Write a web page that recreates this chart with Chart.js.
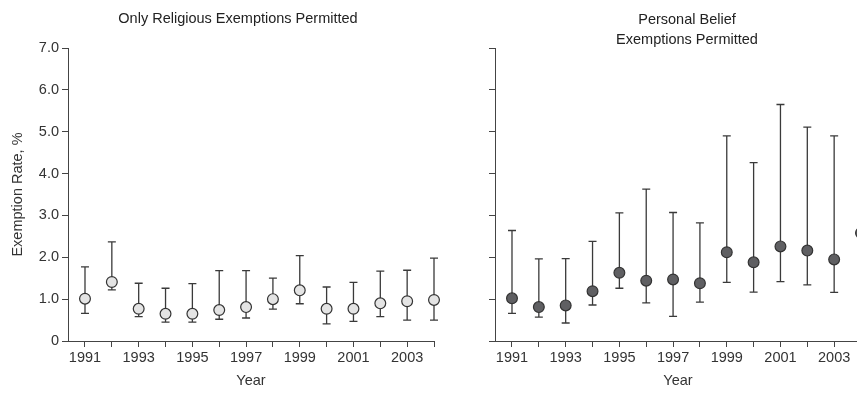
<!DOCTYPE html>
<html>
<head>
<meta charset="utf-8">
<script src="https://cdn.jsdelivr.net/npm/chart.js@4/dist/chart.umd.min.js"></script>
<style>
  html, body { margin: 0; padding: 0; background: #fff; }
  #wrap { position: relative; width: 857px; height: 402px; overflow: hidden; }
  #leftChart { position: absolute; left: 0; top: 0; }
  #rightChart { position: absolute; left: 476px; top: 0; }
</style>
</head>
<body>
<div id="wrap">
  <canvas id="leftChart" width="476" height="402"></canvas>
  <canvas id="rightChart" width="422" height="402"></canvas>
</div>
<script>
const years = [1991, 1992, 1993, 1994, 1995, 1996, 1997, 1998, 1999, 2000, 2001, 2002, 2003, 2004]
const yTicks = [0, 1, 2, 3, 4, 5, 6, 7]

// only religious exemptions
const relMean = [1.01, 1.41, 0.77, 0.65, 0.65, 0.74, 0.81, 1.00, 1.21, 0.77, 0.77, 0.90, 0.95, 0.98]
const relLow  = [0.66, 1.22, 0.58, 0.45, 0.45, 0.52, 0.55, 0.76, 0.89, 0.41, 0.47, 0.58, 0.50, 0.50]
const relHigh = [1.77, 2.37, 1.38, 1.26, 1.37, 1.68, 1.68, 1.50, 2.04, 1.29, 1.40, 1.67, 1.69, 1.98]

// personal belief exemptions
const pbMean = [1.02, 0.81, 0.85, 1.19, 1.63, 1.44, 1.47, 1.38, 2.12, 1.88, 2.26, 2.16, 1.95, 2.58]
const pbLow  = [0.66, 0.57, 0.43, 0.86, 1.26, 0.91, 0.59, 0.93, 1.40, 1.17, 1.42, 1.34, 1.16, 1.75]
const pbHigh = [2.64, 1.96, 1.97, 2.38, 3.06, 3.63, 3.07, 2.82, 4.90, 4.26, 5.65, 5.11, 4.90, 4.40]

const font = "'Liberation Sans', Arial, sans-serif"
const fontSize = 14.5
const ink = '#333'
const axisColor = '#444'

// draws the whiskers with the chart's own scales, under the points
const errorBars = {
  id: 'errorBars',
  beforeDatasetsDraw(chart, args, opts) {
    const { ctx, scales: { x, y } } = chart
    ctx.save()
    ctx.strokeStyle = opts.color
    ctx.lineWidth = 1.3
    years.forEach((yr, i) => {
      const px = x.getPixelForValue(yr)
      const top = y.getPixelForValue(opts.high[i])
      const bot = y.getPixelForValue(opts.low[i])
      ctx.beginPath()
      ctx.moveTo(px, top); ctx.lineTo(px, bot)
      ctx.moveTo(px - 4, top); ctx.lineTo(px + 4, top)
      ctx.moveTo(px - 4, bot); ctx.lineTo(px + 4, bot)
      ctx.stroke()
    })
    ctx.restore()
  }
}

function makeOptions(cfg) {
  return {
    responsive: false,
    animation: false,
    layout: { padding: 0 },
    plugins: {
      legend: { display: false },
      tooltip: { enabled: false },
      title: {
        display: true,
        text: cfg.title,
        color: '#222',
        font: { family: font, size: fontSize, weight: 'normal', lineHeight: cfg.titleLineHeight },
        padding: cfg.titlePadding
      },
      errorBars: { low: cfg.low, high: cfg.high, color: '#3a3a3a' }
    },
    scales: {
      x: {
        type: 'linear',
        min: 1990.367,
        max: 2004,
        afterBuildTicks: scale => { scale.ticks = years.map(v => ({ value: v })) },
        afterFit: scale => { scale.height = 61 },
        ticks: {
          color: ink,
          padding: 2,
          autoSkip: false,
          maxRotation: 0,
          font: { family: font, size: fontSize },
          callback: v => (v % 2 === 1 ? String(v) : '')
        },
        grid: { drawOnChartArea: false, drawTicks: true, tickLength: 6, color: axisColor },
        border: { display: true, color: axisColor, width: 1 },
        title: {
          display: true,
          text: 'Year',
          color: ink,
          font: { family: font, size: fontSize },
          padding: { top: 0, bottom: 12 }
        }
      },
      y: {
        min: 0,
        max: 7,
        afterBuildTicks: scale => { scale.ticks = yTicks.map(v => ({ value: v })) },
        afterFit: scale => { scale.width = cfg.yWidth },
        ticks: {
          display: cfg.showYLabels,
          color: ink,
          padding: 3,
          font: { family: font, size: fontSize },
          callback: v => (v === 0 ? '0' : v.toFixed(1))
        },
        grid: { drawOnChartArea: false, drawTicks: true, tickLength: 6, color: axisColor },
        border: { display: true, color: axisColor, width: 1 },
        title: {
          display: cfg.showYLabels,
          text: 'Exemption Rate, %',
          color: ink,
          font: { family: font, size: fontSize },
          padding: { top: 9.5, bottom: 0 }
        }
      },
      // empty space on the right, so the title centres on the whole panel
      spacer: {
        position: 'right',
        afterFit: scale => { scale.width = cfg.rightGap },
        ticks: { display: false },
        grid: { display: false },
        border: { display: false }
      }
    }
  }
}

const leftChart = new Chart(document.getElementById('leftChart').getContext('2d'), {
  type: 'scatter',
  data: {
    datasets: [{
      data: years.map((yr, i) => ({ x: yr, y: relMean[i] })),
      pointRadius: 5.4,
      pointBorderWidth: 1.2,
      pointBackgroundColor: '#e4e4e4',
      pointBorderColor: ink,
      clip: false
    }]
  },
  options: makeOptions({
    title: 'Only Religious Exemptions Permitted',
    titleLineHeight: 1.2,
    titlePadding: { top: 10, bottom: 20.6 },
    yWidth: 68,
    rightGap: 42,
    showYLabels: true,
    low: relLow,
    high: relHigh
  }),
  plugins: [errorBars]
})

const rightChart = new Chart(document.getElementById('rightChart').getContext('2d'), {
  type: 'scatter',
  data: {
    datasets: [{
      data: years.map((yr, i) => ({ x: yr, y: pbMean[i] })),
      pointRadius: 5.4,
      pointBorderWidth: 1.2,
      pointBackgroundColor: '#5f5f62',
      pointBorderColor: ink,
      clip: false
    }]
  },
  options: makeOptions({
    title: ['Personal Belief', 'Exemptions Permitted'],
    titleLineHeight: 1.38,
    titlePadding: { top: 10, bottom: -2 },
    yWidth: 19,
    rightGap: 37,
    showYLabels: false,
    low: pbLow,
    high: pbHigh
  }),
  plugins: [errorBars]
})
</script>
</body>
</html>
